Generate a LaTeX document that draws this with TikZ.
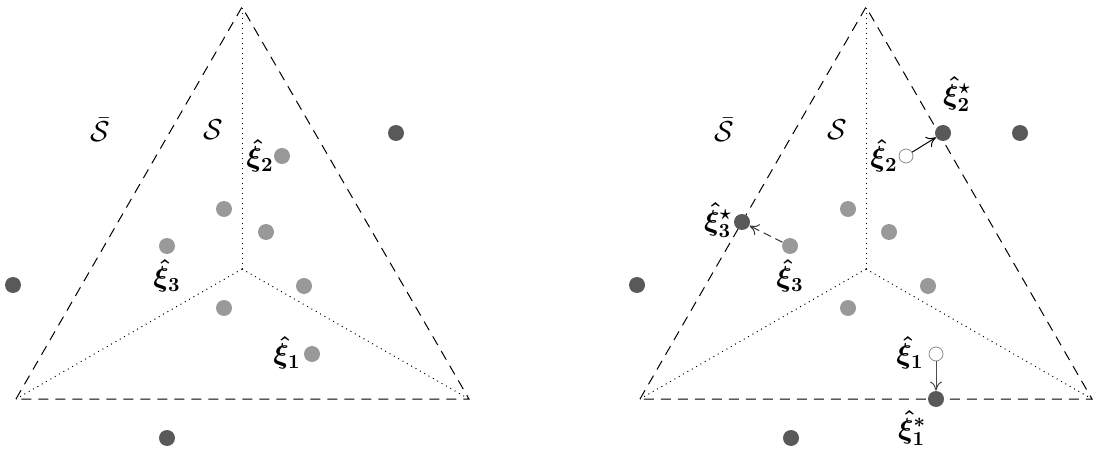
\documentclass[tikz,border=0pt]{standalone}
\usepackage{amsmath,bm}
\usetikzlibrary{arrows.meta}
\begin{document}
\begin{tikzpicture}[x=0.5pt,y=-0.5pt,
  bnd/.style={dash pattern=on 5pt off 3.5pt, line width=0.5pt},
  inner/.style={dotted, line width=0.5pt},
  darkpt/.style={circle, fill=black!65, inner sep=0pt, minimum size=8pt},
  lightpt/.style={circle, fill=black!40, inner sep=0pt, minimum size=8pt},
  hollowpt/.style={circle, draw=black!45, fill=white, line width=0.4pt, inner sep=0pt, minimum size=7pt},
  lbl/.style={inner sep=0pt, font=\Large},
  tip/.style={-{To[length=4.5pt,width=6pt]}, line width=0.5pt}]
\useasboundingbox (0,0) rectangle (1093,449);
% ---------- left ----------
\coordinate (LA) at (242,7);
\coordinate (LL) at (16,399);
\coordinate (LR) at (469,399);
\coordinate (LC) at (242,269);
\draw[bnd] (LL) -- (LA) -- (LR) -- cycle;
\draw[inner] (LC) -- (LA);
\draw[inner] (LC) -- (LL);
\draw[inner] (LC) -- (LR);
\node[lbl] (lSb) at (100,130) {$\bar{\mathcal{S}}$};
\node[lbl] (lS) at (213,130) {$\mathcal{S}$};
\node[darkpt] (ld1) at (396,133) {};
\node[darkpt] (ld2) at (13,285) {};
\node[darkpt] (ld3) at (167,438) {};
\node[lightpt] (lx2) at (282,156) {};
\node[lightpt] (lp1) at (224,209) {};
\node[lightpt] (lp2) at (266,232) {};
\node[lightpt] (lx3) at (167,246) {};
\node[lightpt] (lp3) at (304,286) {};
\node[lightpt] (lp4) at (224,308) {};
\node[lightpt] (lx1) at (312,354) {};
\node[lbl] (lt2) at (260,156) {$\bm{\hat{\xi}_2}$};
\node[lbl] (lt3) at (167,276) {$\bm{\hat{\xi}_3}$};
\node[lbl] (lt1) at (287,353) {$\bm{\hat{\xi}_1}$};
% ---------- right ----------
\coordinate (RA) at (866,7);
\coordinate (RL) at (640,399);
\coordinate (RR) at (1092,399);
\coordinate (RC) at (866,269);
\draw[bnd] (RL) -- (RA) -- (RR) -- cycle;
\draw[inner] (RC) -- (RA);
\draw[inner] (RC) -- (RL);
\draw[inner] (RC) -- (RR);
\node[lbl] (rSb) at (724,130) {$\bar{\mathcal{S}}$};
\node[lbl] (rS) at (837,130) {$\mathcal{S}$};
\node[darkpt] (rd1) at (1020,133) {};
\node[darkpt] (rd2) at (637,285) {};
\node[darkpt] (rd3) at (791,438) {};
\node[hollowpt] (rx2) at (906,156) {};
\node[lightpt] (rp1) at (848,209) {};
\node[lightpt] (rp2) at (889,232) {};
\node[lightpt] (rx3) at (790,246) {};
\node[lightpt] (rp3) at (928,286) {};
\node[lightpt] (rp4) at (848,308) {};
\node[hollowpt] (rx1) at (936,354) {};
\node[darkpt] (rs2) at (943,133) {};
\node[darkpt] (rs3) at (742,222) {};
\node[darkpt] (rs1) at (936,399) {};
\draw[tip] (rx2) -- (rs2);
\draw[tip, dash pattern=on 4pt off 2.5pt, black!80] (rx3) -- (rs3);
\draw[tip, black!70] (rx1) -- (rs1);
\node[lbl] (rt2) at (884,156) {$\bm{\hat{\xi}_2}$};
\node[lbl] (rt2s) at (957,94) {$\bm{\hat{\xi}_2^\star}$};
\node[lbl] (rt3s) at (718,220) {$\bm{\hat{\xi}_3^\star}$};
\node[lbl] (rt3) at (790,276) {$\bm{\hat{\xi}_3}$};
\node[lbl] (rt1) at (910,353) {$\bm{\hat{\xi}_1}$};
\node[lbl] (rt1s) at (912,428) {$\bm{\hat{\xi}_1^*}$};
\end{tikzpicture}
\end{document}
